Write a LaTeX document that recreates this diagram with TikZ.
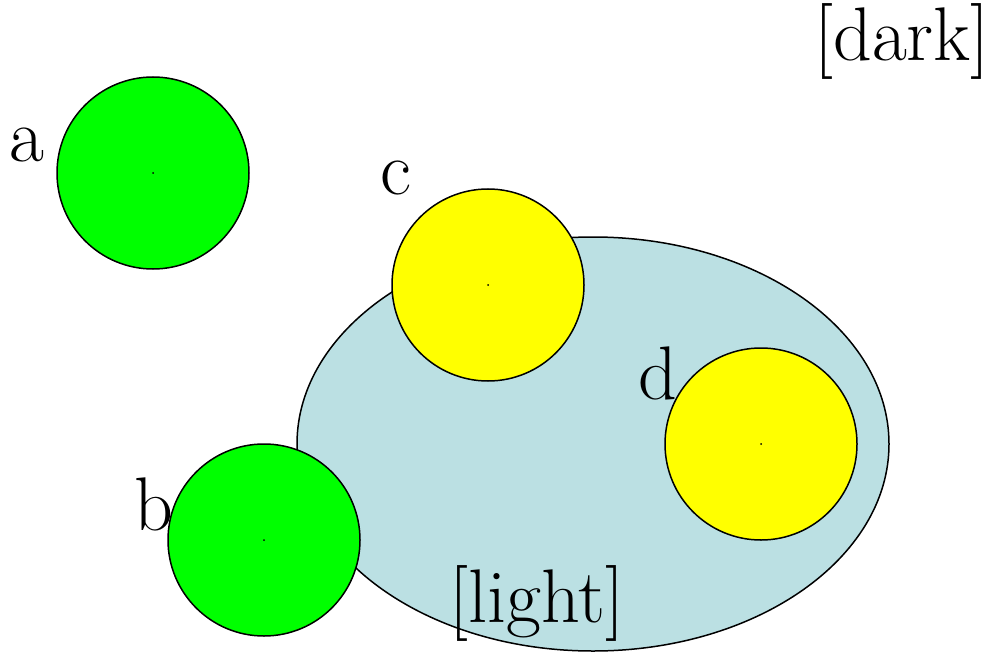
\documentclass[tikz,border=0pt]{standalone}
\usetikzlibrary{shapes.geometric, positioning}

\begin{document}
\begin{tikzpicture}[
        x=0.5pt, y=-0.5pt,
        element/.style={circle, draw, line width=0.75pt, minimum size=96pt, inner sep=0pt},
        greenball/.style={element, fill={rgb,255:red,0;green,255;blue,0}},
        yellowball/.style={element, fill={rgb,255:red,255;green,255;blue,0}},
        region/.style={ellipse, draw, line width=0.75pt, fill={rgb,255:red,187;green,224;blue,227}, minimum width=296pt, minimum height=207pt, inner sep=0pt},
        labelstyle/.style={font=\fontsize{38}{42}\selectfont, inner sep=0pt, anchor=base},
        centre/.style={circle, fill=black, inner sep=0pt, minimum size=1pt}
    ]
        \useasboundingbox (0,0) rectangle (994,652);
        \node (light) [region] at (593,444) {};
        \node (a) [greenball] at (153,173) {};
        \node (b) [greenball] at (264,540) {};
        \node (c) [yellowball] at (488,285) {};
        \node (d) [yellowball] at (761,444) {};
        % centre points
        \foreach \n in {a,b,c,d}
            \node [centre] at (\n.center) {};
        % labels
        \node (alabel) [labelstyle] at (27,162) {a};
        \node (blabel) [labelstyle] at (154,530) {b};
        \node (clabel) [labelstyle] at (396,194) {c};
        \node (dlabel) [labelstyle] at (658,399) {d};
        \node (darktext) [labelstyle] at (902,61) {[dark]};
        \node (lighttext) [labelstyle] at (537,622) {[light]};
    \end{tikzpicture}
\end{document}
